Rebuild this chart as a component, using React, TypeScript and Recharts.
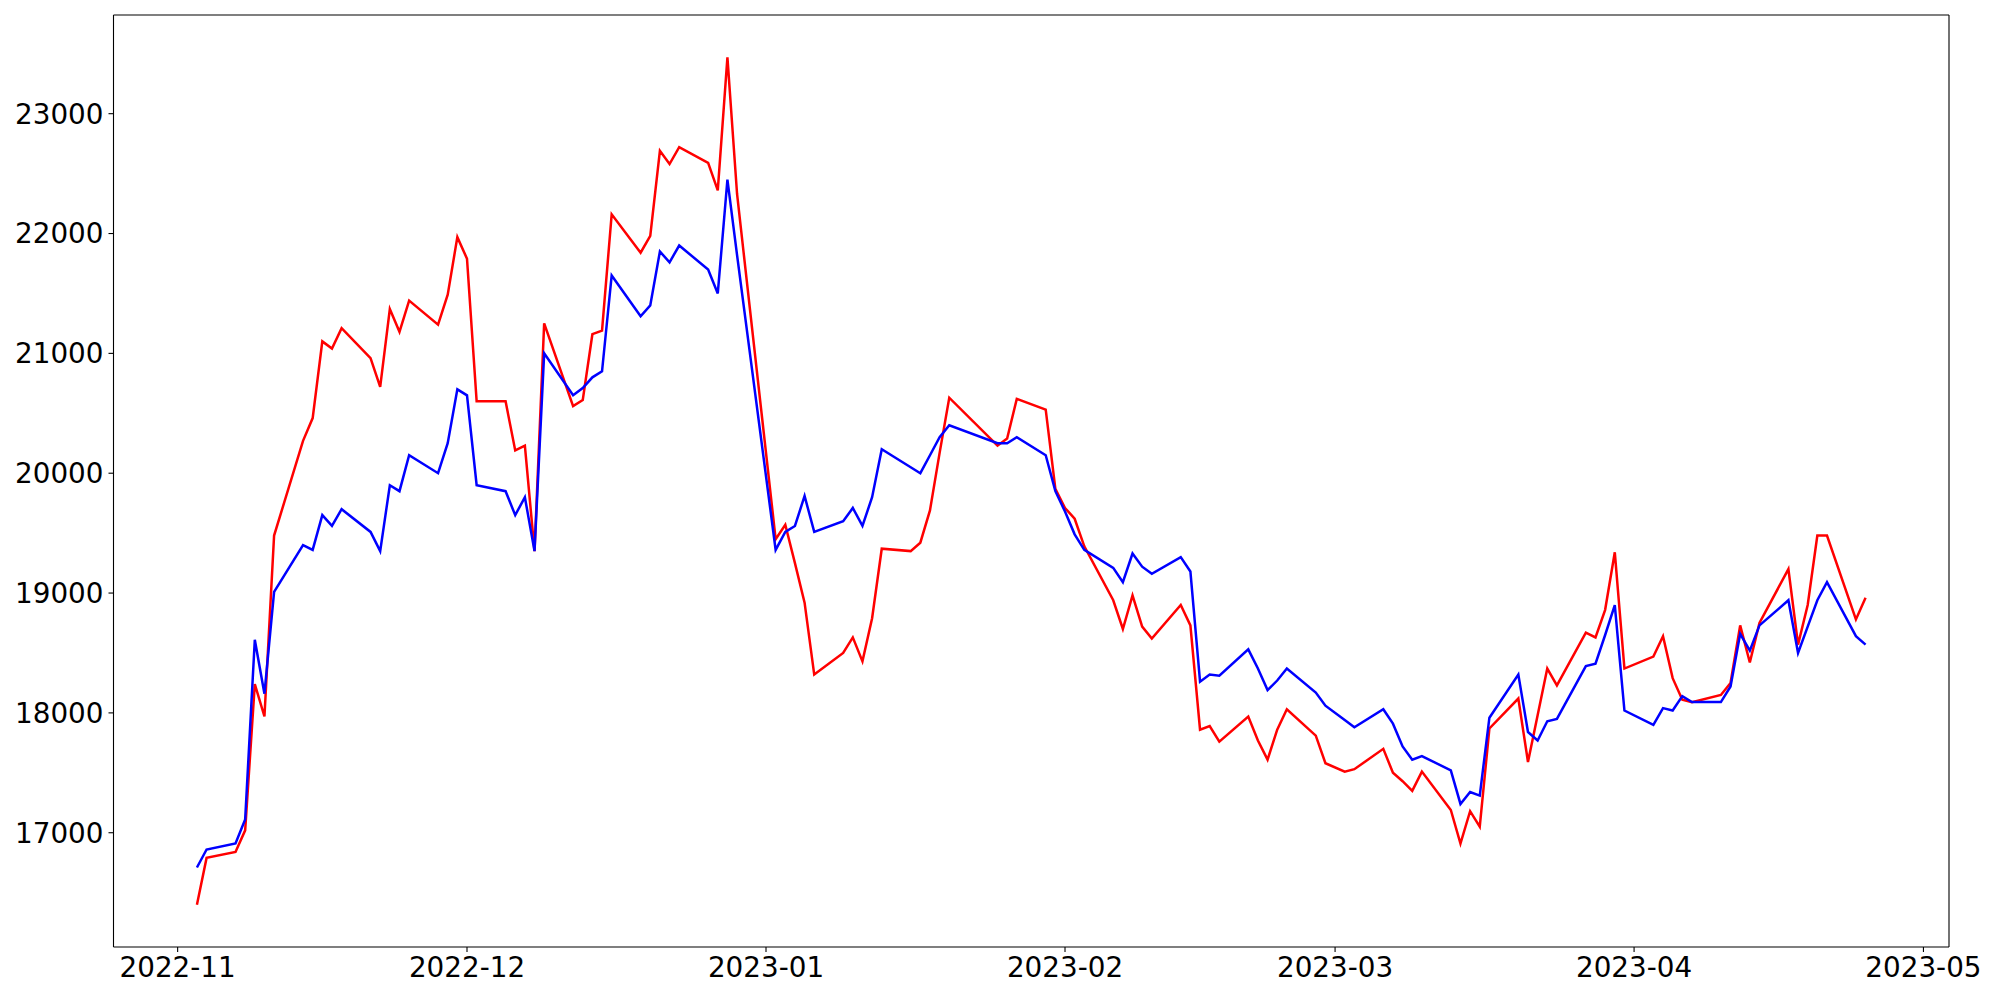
import React from "react";
import { LineChart, Line, XAxis, YAxis, ReferenceLine } from "recharts";

const dates = [
  "2022-11-03","2022-11-04","2022-11-07","2022-11-08","2022-11-09","2022-11-10","2022-11-11","2022-11-14","2022-11-15","2022-11-16","2022-11-17","2022-11-18","2022-11-21","2022-11-22","2022-11-23","2022-11-24","2022-11-25","2022-11-28","2022-11-29","2022-11-30",
  "2022-12-01","2022-12-02","2022-12-05","2022-12-06","2022-12-07","2022-12-08","2022-12-09","2022-12-12","2022-12-13","2022-12-14","2022-12-15","2022-12-16","2022-12-19","2022-12-20","2022-12-21","2022-12-22","2022-12-23","2022-12-26","2022-12-27","2022-12-28","2022-12-29",
  "2023-01-02","2023-01-03","2023-01-04","2023-01-05","2023-01-06","2023-01-09","2023-01-10","2023-01-11","2023-01-12","2023-01-13","2023-01-16","2023-01-17","2023-01-18","2023-01-19","2023-01-20","2023-01-25","2023-01-26","2023-01-27","2023-01-30","2023-01-31",
  "2023-02-01","2023-02-02","2023-02-03","2023-02-06","2023-02-07","2023-02-08","2023-02-09","2023-02-10","2023-02-13","2023-02-14","2023-02-15","2023-02-16","2023-02-17","2023-02-20","2023-02-21","2023-02-22","2023-02-23","2023-02-24","2023-02-27","2023-02-28",
  "2023-03-02","2023-03-03","2023-03-06","2023-03-07","2023-03-08","2023-03-09","2023-03-10","2023-03-13","2023-03-14","2023-03-15","2023-03-16","2023-03-17","2023-03-20","2023-03-21","2023-03-22","2023-03-23","2023-03-24","2023-03-27","2023-03-28","2023-03-29","2023-03-30","2023-03-31",
  "2023-04-03","2023-04-04","2023-04-05","2023-04-06","2023-04-07","2023-04-10","2023-04-11","2023-04-12","2023-04-13","2023-04-14","2023-04-17","2023-04-18","2023-04-19","2023-04-20","2023-04-21","2023-04-24","2023-04-25"
];

const redSeries = [
  16400,16790,16840,17020,18240,17970,19480,20270,20460,21100,21040,21210,20960,20720,21370,21180,21440,21240,21490,21970,
  21790,20600,20600,20190,20230,19350,21250,20560,20610,21160,21190,22160,21840,21980,22690,22580,22720,22590,22360,23470,22330,
  19450,19570,19250,18920,18320,18500,18630,18430,18790,19370,19350,19420,19690,20170,20630,20230,20290,20620,20530,19870,
  19710,19620,19390,18940,18700,18980,18720,18620,18900,18730,17860,17890,17760,17970,17770,17610,17860,18030,17810,17580,
  17510,17530,17700,17500,17430,17350,17510,17190,16910,17180,17050,17870,18120,17590,17980,18370,18230,18670,18630,18860,19340,18370,
  18470,18640,18290,18110,18090,18150,18250,18730,18420,18750,19200,18570,18900,19480,19480,18780,18960
];

const blueSeries = [
  16710,16860,16910,17110,18610,18160,19010,19400,19360,19650,19560,19700,19510,19350,19900,19850,20150,20000,20250,20700,
  20650,19900,19850,19650,19800,19350,21000,20650,20710,20800,20850,21650,21310,21400,21850,21760,21900,21700,21500,22450,21820,
  19360,19510,19560,19810,19510,19600,19710,19560,19800,20200,20050,20000,20150,20300,20400,20250,20250,20300,20150,19850,
  19680,19490,19360,19210,19090,19330,19220,19160,19300,19180,18260,18320,18310,18530,18370,18190,18270,18370,18170,18060,
  17940,17880,18030,17910,17720,17610,17640,17520,17240,17340,17310,17960,18320,17840,17770,17930,17950,18390,18410,18650,18900,18020,
  17900,18040,18020,18140,18090,18090,18220,18660,18520,18730,18940,18500,18720,18940,19090,18640,18570
];

const monthTicks = ["2022-11-01","2022-12-01","2023-01-01","2023-02-01","2023-03-01","2023-04-01","2023-05-01"];
const valueTicks = [17000, 18000, 19000, 20000, 21000, 22000, 23000];

const toTs = (s: string) => {
  const [y, m, d] = s.split("-").map(Number);
  return Date.UTC(y, m - 1, d);
};

const data = dates.map((d, i) => ({ t: toTs(d), red: redSeries[i], blue: blueSeries[i] }));

const allVals = [...redSeries, ...blueSeries];
const vMin = Math.min(...allVals);
const vMax = Math.max(...allVals);
const vPad = (vMax - vMin) * 0.05;
const tMin = data[0].t;
const tMax = data[data.length - 1].t;
const tPad = (tMax - tMin) * 0.05;
const xDomain: [number, number] = [tMin - tPad, tMax + tPad];
const yDomain: [number, number] = [vMin - vPad, vMax + vPad];

const fmtMonth = (t: number) => {
  const d = new Date(t);
  const m = d.getUTCMonth() + 1;
  return `${d.getUTCFullYear()}-${m < 10 ? "0" + m : m}`;
};

const font = { fontFamily: "DejaVu Sans", fontSize: 27.8, fill: "#000" };

export default function App() {
  return (
    <div style={{ position: "absolute", left: 0, top: 0, width: 2000, height: 1000, background: "#fff" }}>
      <LineChart width={2000} height={1000} data={data} margin={{ top: 15, right: 51, bottom: 0, left: 0 }}>
        <XAxis
          dataKey="t"
          type="number"
          domain={xDomain}
          ticks={monthTicks.map(toTs)}
          tickFormatter={fmtMonth}
          allowDataOverflow
          height={53}
          tickSize={5}
          tickMargin={5}
          tick={font}
          stroke="#000"
          axisLine={{ stroke: "#000", strokeWidth: 1.1 }}
          tickLine={{ stroke: "#000", strokeWidth: 1.1 }}
        />
        <YAxis
          type="number"
          domain={yDomain}
          ticks={valueTicks}
          allowDataOverflow
          width={113.5}
          tickSize={5}
          tickMargin={5}
          tick={font}
          stroke="#000"
          axisLine={{ stroke: "#000", strokeWidth: 1.1 }}
          tickLine={{ stroke: "#000", strokeWidth: 1.1 }}
        />
        <ReferenceLine y={yDomain[1]} stroke="#000" strokeWidth={1.1} ifOverflow="visible" />
        <ReferenceLine x={xDomain[1]} stroke="#000" strokeWidth={1.1} ifOverflow="visible" />
        <Line type="linear" dataKey="red" stroke="#ff0000" strokeWidth={2.5} dot={false} isAnimationActive={false} />
        <Line type="linear" dataKey="blue" stroke="#0000ff" strokeWidth={2.5} dot={false} isAnimationActive={false} />
      </LineChart>
    </div>
  );
}
